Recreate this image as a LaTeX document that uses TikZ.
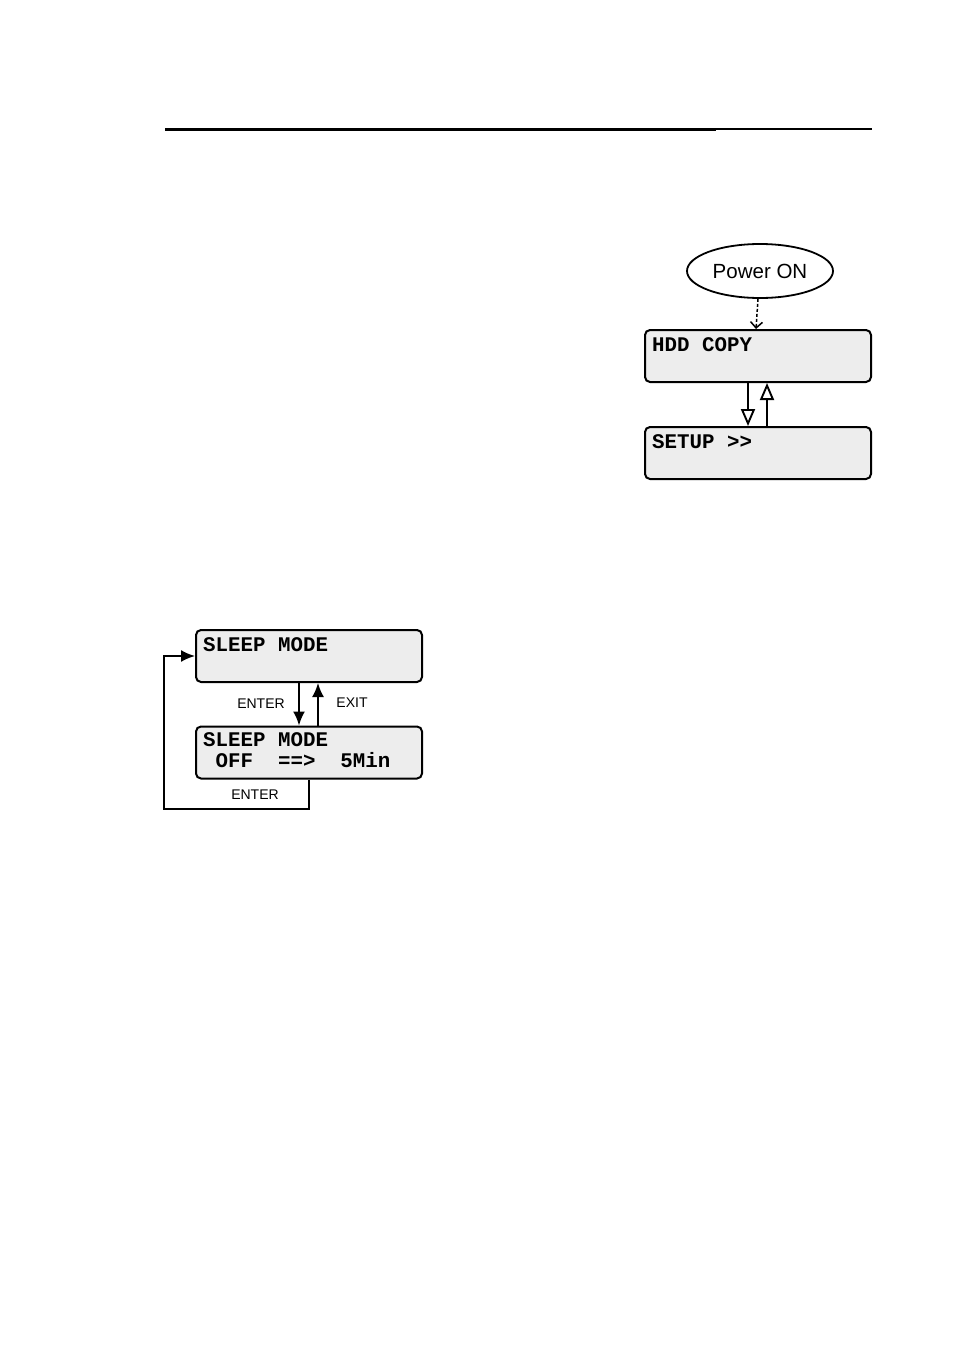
\documentclass[tikz,border=0pt]{standalone}
\usepackage{fontspec}
\setmainfont{Liberation Sans}
\setmonofont{Liberation Mono}
\usepackage{tikz}
\usetikzlibrary{arrows.meta, positioning, shapes.geometric}

\begin{document}
\begin{tikzpicture}[
  x=1pt, y=-1pt,
  lcd/.style={draw, rounded corners=5pt, line width=2pt, fill=black!7,
    minimum width=226pt, minimum height=52pt, inner sep=0pt},
  lcdtext/.style={anchor=base west, inner sep=0pt, font=\ttfamily\bfseries\fontsize{20.8}{21}\selectfont},
  lbl/.style={font=\fontsize{14}{16}\selectfont},
  conn/.style={line width=1.9pt},
]
\useasboundingbox (0,0) rectangle (954,1351);

% header rule
\draw[line width=3pt] (165,130) -- (716,130);
\draw[line width=1.5pt] (716,129) -- (872,129);

% main menu
\node[ellipse, draw, line width=1.8pt, minimum width=146pt, minimum height=54pt,
  inner sep=0pt, font=\fontsize{20.5}{22}\selectfont] (pwr) at (760,271) {Power ON};
\node[lcd] (hdd) at (758,356) {};
\node[lcd] (setup) at (758,453) {};
\node[lcdtext] at ([shift={(8,22)}]hdd.north west) {HDD COPY};
\node[lcdtext] at ([shift={(8,22)}]setup.north west) {SETUP >>};

\draw[conn, line width=1.5pt, densely dashed, -{Straight Barb[length=6pt,width=12pt]}] ([xshift=-2pt]pwr.south) -- ([xshift=-2pt]hdd.north);
\draw[conn, -{Triangle[open,length=17pt,width=14pt]}] ([xshift=-10pt]hdd.south) -- ([xshift=-10pt]setup.north);
\draw[conn, -{Triangle[open,length=17pt,width=14pt]}] ([xshift=9pt]setup.north) -- ([xshift=9pt]hdd.south);

% sleep mode
\node[lcd] (sleep) at (309,656) {};
\node[lcd] (sleepset) at (309,752.5) {};
\node[lcdtext] at ([shift={(8,22)}]sleep.north west) {SLEEP MODE};
\node[lcdtext] at ([shift={(8,21)}]sleepset.north west) {SLEEP MODE};
\node[lcdtext] at ([shift={(8,42)}]sleepset.north west) {\ OFF\ \ ==>\ \ 5Min};

\draw[conn, -{Latex[length=14pt,width=12pt]}] ([xshift=-10pt]sleep.south) -- ([xshift=-10pt]sleepset.north);
\draw[conn, -{Latex[length=14pt,width=12pt]}] ([xshift=9pt]sleepset.north) -- ([xshift=9pt]sleep.south);
\node[lbl] (enter) at (261,704) {ENTER};
\node[lbl] (exit) at (352,703) {EXIT};

\coordinate (loopL) at (164,809);
\draw[conn, -{Latex[length=14pt,width=12pt]}] (sleepset.south) |- (loopL) |- (sleep.west);
\node[lbl] (enterb) at (255,795) {ENTER};

\end{tikzpicture}
\end{document}
